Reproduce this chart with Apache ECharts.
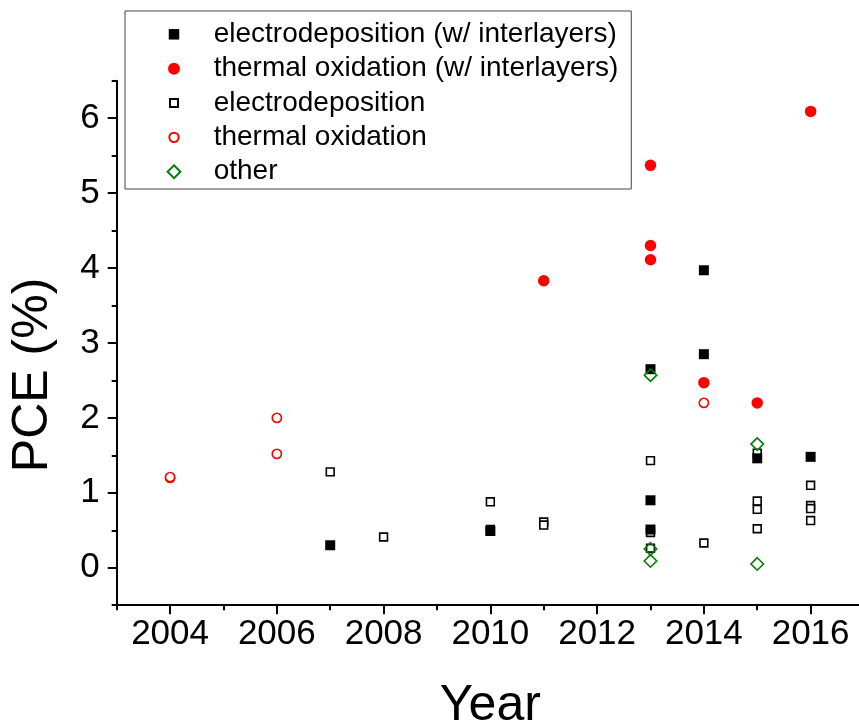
<!DOCTYPE html>
<html>
<head>
<meta charset="utf-8">
<script src="https://cdn.jsdelivr.net/npm/echarts@6/dist/echarts.min.js"></script>
<style>
html,body{margin:0;padding:0;background:#fff;}
#chart{width:859px;height:723px;}
</style>
</head>
<body>
<div id="chart"></div>
<script>
// ---- data ----
const seriesNames = [
  'electrodeposition (w/ interlayers)',
  'thermal oxidation (w/ interlayers)',
  'electrodeposition',
  'thermal oxidation',
  'other'
];
const edInterYear = [2007, 2010, 2013, 2013, 2013, 2014, 2014, 2015, 2016];
const edInterPCE  = [0.30, 0.49, 2.65, 0.90, 0.51, 3.97, 2.85, 1.46, 1.48];

const toInterYear = [2011, 2013, 2013, 2013, 2014, 2015, 2016];
const toInterPCE  = [3.83, 5.37, 4.30, 4.11, 2.47, 2.20, 6.09];

const edYear = [2007, 2008, 2010, 2010, 2011, 2011, 2013, 2013, 2013, 2014, 2015, 2015, 2015, 2015, 2016, 2016, 2016, 2016];
const edPCE  = [1.28, 0.41, 0.88, 0.51, 0.61, 0.57, 1.43, 0.47, 0.26, 0.33, 1.53, 0.89, 0.78, 0.52, 1.10, 0.83, 0.79, 0.63];

const toYear = [2004, 2004, 2006, 2006, 2014];
const toPCE  = [1.20, 1.21, 2.00, 1.52, 2.20];

const otherYear = [2013, 2013, 2013, 2015, 2015];
const otherPCE  = [2.57, 0.25, 0.09, 1.65, 0.05];

const xMajorTicks = [2004, 2006, 2008, 2010, 2012, 2014, 2016];
const xMinorTicks = [2003, 2005, 2007, 2009, 2011, 2013, 2015, 2017];
const yMajorTicks = [0, 1, 2, 3, 4, 5, 6];
const yMinorTicks = [-0.5, 0.5, 1.5, 2.5, 3.5, 4.5, 5.5, 6.5];

function pairs(xs, ys) { return xs.map((x, i) => [x, ys[i]]); }

const FONT = '"Liberation Sans", Arial, sans-serif';
const chart = echarts.init(document.getElementById('chart'), null, {renderer: 'canvas'});

const axisLineStyle = {color: '#000', width: 2};

const option = {
  animation: false,
  backgroundColor: '#fff',
  grid: {left: 116.7, right: -5, top: 80.7, bottom: 117.8, outerBoundsMode: 'none', containLabel: false},
  legend: {
    orient: 'vertical',
    left: 125, top: 11,
    padding: [8.3, 13, 2.3, 40.5],
    borderColor: '#444', borderWidth: 1,
    itemWidth: 15, itemHeight: 15,
    itemGap: 4.35,
    selectedMode: false,
    textStyle: {fontFamily: FONT, fontSize: 28, color: '#000', lineHeight: 30, padding: [0, 0, 0, 27.2]},
    data: [
      {name: seriesNames[0], icon: 'path://M0 0M15 15M2.25 2.25L12.75 2.25L12.75 12.75L2.25 12.75Z'},
      {name: seriesNames[1], icon: 'path://M0 0M15 15M1.5 7.5A6 6 0 1 1 13.5 7.5A6 6 0 1 1 1.5 7.5Z'},
      {name: seriesNames[2], icon: 'path://M0 0M15 15M3.5 3.5L11.5 3.5L11.5 11.5L3.5 11.5Z'},
      {name: seriesNames[3], icon: 'path://M0 0M15 15M2.8 7.5A4.7 4.7 0 1 1 12.2 7.5A4.7 4.7 0 1 1 2.8 7.5Z'},
      {name: seriesNames[4], icon: 'path://M0 0M15 15M7.5 1.1L13.9 7.5L7.5 13.9L1.1 7.5Z'}
    ]
  },
  xAxis: [
    {
      type: 'value', min: 2003, max: 2017,
      axisLine: {show: true, onZero: false, lineStyle: axisLineStyle},
      axisTick: {show: true, inside: false, length: 9, lineStyle: {color: '#000', width: 2}, customValues: xMajorTicks},
      axisLabel: {show: true, margin: 12, fontFamily: FONT, fontSize: 35, color: '#000', customValues: xMajorTicks,
                  formatter: v => String(v)},
      splitLine: {show: false},
      name: 'Year', nameLocation: 'middle', nameGap: 76,
      nameTextStyle: {fontFamily: FONT, fontSize: 50, color: '#000'}
    },
    {
      type: 'value', min: 2003, max: 2017, position: 'bottom',
      axisLine: {show: false, onZero: false},
      axisTick: {show: true, inside: false, length: 5, lineStyle: {color: '#000', width: 2}, customValues: xMinorTicks},
      axisLabel: {show: false},
      splitLine: {show: false}
    }
  ],
  yAxis: [
    {
      type: 'value', min: -0.5, max: 6.5,
      axisLine: {show: true, onZero: false, lineStyle: axisLineStyle},
      axisTick: {show: true, inside: false, length: 9, lineStyle: {color: '#000', width: 2}, customValues: yMajorTicks},
      axisLabel: {show: true, margin: 17, fontFamily: FONT, fontSize: 35, color: '#000', customValues: yMajorTicks},
      splitLine: {show: false},
      name: 'PCE (%)', nameLocation: 'middle', nameGap: 58,
      nameTextStyle: {fontFamily: FONT, fontSize: 50, color: '#000', padding: [0, 64, 0, 0]}
    },
    {
      type: 'value', min: -0.5, max: 6.5, position: 'left',
      axisLine: {show: false, onZero: false},
      axisTick: {show: true, inside: false, length: 5, lineStyle: {color: '#000', width: 2}, customValues: yMinorTicks},
      axisLabel: {show: false},
      splitLine: {show: false}
    }
  ],
  series: [
    {
      name: seriesNames[2], type: 'scatter', xAxisIndex: 0, yAxisIndex: 0,
      symbol: 'rect', symbolSize: 7.8,
      itemStyle: {color: '#fff', borderColor: '#000', borderWidth: 1.6, opacity: 1},
      data: pairs(edYear, edPCE), z: 2
    },
    {
      name: seriesNames[3], type: 'scatter', xAxisIndex: 0, yAxisIndex: 0,
      symbol: 'circle', symbolSize: 9.2,
      itemStyle: {color: '#fff', borderColor: '#ff0000', borderWidth: 1.6, opacity: 1},
      data: pairs(toYear, toPCE), z: 2
    },
    {
      name: seriesNames[0], type: 'scatter', xAxisIndex: 0, yAxisIndex: 0,
      symbol: 'rect', symbolSize: 10,
      itemStyle: {color: '#000', opacity: 1},
      data: pairs(edInterYear, edInterPCE), z: 3
    },
    {
      name: seriesNames[1], type: 'scatter', xAxisIndex: 0, yAxisIndex: 0,
      symbol: 'circle', symbolSize: 11.5,
      itemStyle: {color: '#ff0000', opacity: 1},
      data: pairs(toInterYear, toInterPCE), z: 3
    },
    {
      name: seriesNames[4], type: 'scatter', xAxisIndex: 0, yAxisIndex: 0,
      symbol: 'diamond', symbolSize: 12.5,
      itemStyle: {color: 'rgba(255,255,255,0)', borderColor: '#008000', borderWidth: 1.6, opacity: 1},
      data: pairs(otherYear, otherPCE), z: 4
    }
  ]
};
chart.setOption(option);
</script>
</body>
</html>
